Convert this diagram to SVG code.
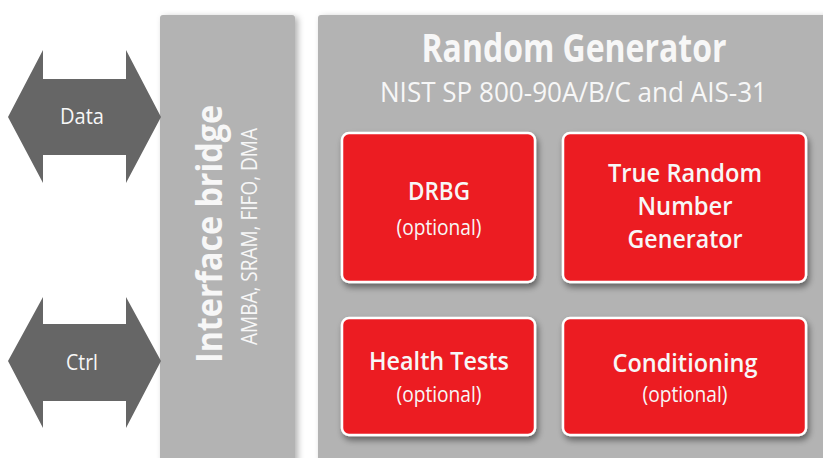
<svg xmlns="http://www.w3.org/2000/svg" width="823" height="458" viewBox="0 0 823 458">
  <defs>
    <filter id="panelShadow" x="-10%" y="-10%" width="130%" height="130%">
      <feDropShadow dx="3" dy="2" stdDeviation="3" flood-color="#000" flood-opacity="0.3"/>
    </filter>
    <filter id="boxShadow" x="-10%" y="-10%" width="130%" height="130%">
      <feDropShadow dx="2" dy="4" stdDeviation="3" flood-color="#000" flood-opacity="0.45"/>
    </filter>
    <style>
      .panel { fill: #B3B3B3; filter: url(#panelShadow); }
      .box { fill: #EC1C24; stroke: #FFFFFF; stroke-width: 2.5; filter: url(#boxShadow); }
      .arrow { fill: #666666; }
      text { font-family: "Open Sans", "Noto Sans", "Liberation Sans", sans-serif; fill: #F7F7F7; text-anchor: middle; }
      .title { font-size: 39px; font-weight: bold; }
      .sub { font-size: 28px; }
      .ib { font-size: 35px; font-weight: bold; }
      .ibsub { font-size: 21px; }
      .bt { font-size: 25px; font-weight: 600; }
      .opt { font-size: 21px; }
      .lbl { font-size: 21px; }
    </style>
  </defs>
  <rect width="823" height="458" fill="#FFFFFF"/>

  <g id="interface-bridge">
    <rect class="panel" x="160" y="15" width="135" height="460" rx="3"/>
    <text class="ib" transform="translate(222,234) rotate(-90)" textLength="258" lengthAdjust="spacingAndGlyphs">Interface bridge</text>
    <text class="ibsub" transform="translate(257,236.5) rotate(-90)" textLength="217" lengthAdjust="spacingAndGlyphs">AMBA, SRAM, FIFO, DMA</text>
  </g>

  <g id="random-generator">
    <rect class="panel" x="318" y="15" width="520" height="460" rx="3"/>
    <text class="title" x="574" y="62" textLength="305" lengthAdjust="spacingAndGlyphs">Random Generator</text>
    <text class="sub" x="573.5" y="102" textLength="387" lengthAdjust="spacingAndGlyphs">NIST SP 800-90A/B/C and AIS-31</text>
  </g>

  <g id="drbg">
    <rect class="box" x="342" y="133" width="193" height="149" rx="7"/>
    <text class="bt" x="439" y="200" textLength="62" lengthAdjust="spacingAndGlyphs">DRBG</text>
    <text class="opt" x="439" y="235" textLength="85" lengthAdjust="spacingAndGlyphs">(optional)</text>
  </g>

  <g id="trng">
    <rect class="box" x="563" y="133" width="243" height="149" rx="7"/>
    <text class="bt" x="685" y="182" textLength="154" lengthAdjust="spacingAndGlyphs">True Random</text>
    <text class="bt" x="685" y="215" textLength="95" lengthAdjust="spacingAndGlyphs">Number</text>
    <text class="bt" x="685" y="248" textLength="115" lengthAdjust="spacingAndGlyphs">Generator</text>
  </g>

  <g id="health-tests">
    <rect class="box" x="342" y="318" width="193" height="117" rx="7"/>
    <text class="bt" x="439" y="370" textLength="140" lengthAdjust="spacingAndGlyphs">Health Tests</text>
    <text class="opt" x="439" y="402" textLength="85" lengthAdjust="spacingAndGlyphs">(optional)</text>
  </g>

  <g id="conditioning">
    <rect class="box" x="563" y="318" width="243" height="117" rx="7"/>
    <text class="bt" x="685" y="372" textLength="145" lengthAdjust="spacingAndGlyphs">Conditioning</text>
    <text class="opt" x="685" y="402" textLength="85" lengthAdjust="spacingAndGlyphs">(optional)</text>
  </g>

  <g id="connectors">
    <g id="arrow-data">
      <polygon class="arrow" points="8,117 43,50 43,79 126,79 126,50 161,117 126,183 126,155 43,155 43,183"/>
      <text class="lbl" x="82" y="124" textLength="44" lengthAdjust="spacingAndGlyphs">Data</text>
    </g>
    <g id="arrow-ctrl">
      <polygon class="arrow" points="8,361 43,297 43,324 126,324 126,297 161,361 126,428 126,401 43,401 43,428"/>
      <text class="lbl" x="82" y="370" textLength="32" lengthAdjust="spacingAndGlyphs">Ctrl</text>
    </g>
  </g>
</svg>
